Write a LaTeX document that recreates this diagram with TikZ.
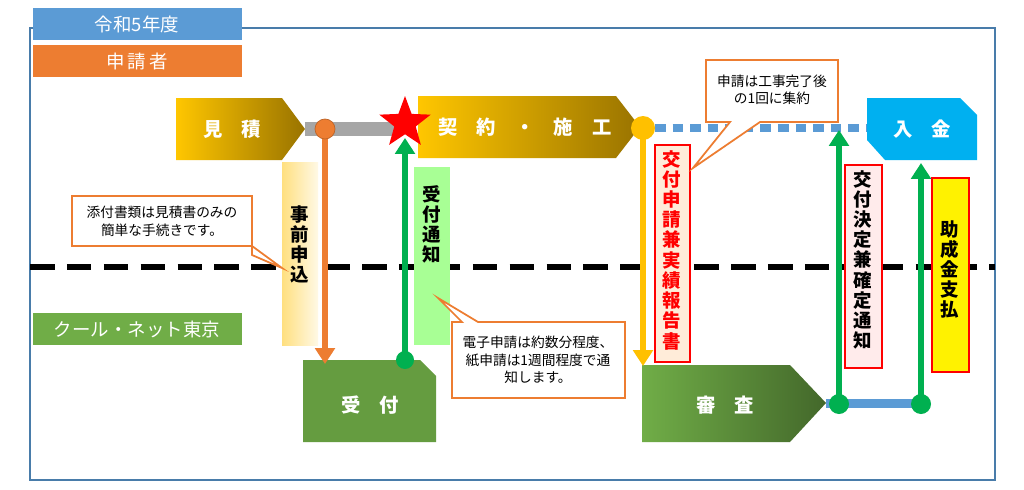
\documentclass[tikz,border=0pt]{standalone}
\usepackage{fontspec}
\setmainfont{Noto Sans CJK JP}
\usetikzlibrary{shapes.geometric,arrows.meta}
\definecolor{hblue}{HTML}{5B9BD5}
\definecolor{horange}{HTML}{ED7D31}
\definecolor{hgreen}{HTML}{70AD47}
\definecolor{dgreen}{HTML}{00B050}
\definecolor{gold}{HTML}{FFC000}
\definecolor{cyanb}{HTML}{00B0F0}
\tikzset{
  hdr/.style={draw=none,text=white,font=\fontsize{10.5}{12}\selectfont,minimum width=209*0.02cm,minimum height=32*0.02cm,inner sep=0},
  vt/.style={font=\bfseries\fontsize{10.5}{11.5}\selectfont,align=center,inner sep=0,anchor=north},
  call/.style={draw=horange,line width=1pt,fill=white},
  ctext/.style={font=\fontsize{7.8}{10}\selectfont,align=center},
  arr/.style={line width=3.5pt,-{Triangle[length=9pt,width=11pt]}},
  wt/.style={text=white,font=\bfseries\fontsize{11}{13}\selectfont},
}
\begin{document}
\begin{tikzpicture}[x=0.02cm,y=-0.02cm]
\useasboundingbox[fill=white] (0,0) rectangle (1024,490);
% frame
\draw[hblue!80!black,line width=1.2pt] (30,28) -- (995,28) -- (995,480) -- (30,480) -- cycle;
\node[hdr,fill=hblue] (year) at (137,24) {令和5年度};
\node[hdr,fill=horange] (app) at (137,61) {申\,請\,者};
\node[hdr,fill=hgreen] (cn) at (137,329) {クール・ネット東京};
% dashed divider
\coordinate (dl) at (30,267); \coordinate (dr) at (995,267);
\draw[line width=3pt,dash pattern=on 14pt off 7pt] (dl) -- (dr);
% mitsumori
\path[left color=gold!90!yellow,right color=gold!60!black] (176,98) -- (282,98) -- (305,129) -- (282,160) -- (176,160) -- cycle;
\node[wt] (mitsu) at (232,129) {見\quad 積};
% gray bar
\fill[gray!70] (305,122) rectangle (400,136);
% keiyaku
\path[left color=gold!90!yellow,right color=gold!60!black] (418,96) -- (616,96) -- (640,127) -- (616,158) -- (418,158) -- cycle;
\node[wt] (kei) at (525,127) {契\quad 約\quad・\quad 施\quad 工};
% dotted blue line
\coordinate (dot1) at (655,128); \coordinate (dot2) at (868,128);
\draw[hblue,line width=5pt,dash pattern=on 6pt off 4pt] (dot1) -- (dot2);
% nyukin
\fill[cyanb] (867,98) -- (960,98) -- (977,115) -- (977,160) -- (885,160) -- (867,140) -- cycle;
\node[wt] (nyu) at (922,129) {入\quad 金};
% uketsuke
\fill[hgreen!90!black] (303,360) -- (420,360) -- (436,376) -- (436,442) -- (303,442) -- cycle;
\node[wt] (uke) at (370,405) {受\quad 付};
% shinsa
\path[left color=hgreen,right color=hgreen!60!black] (642,365) -- (790,365) -- (826,403) -- (790,442) -- (642,442) -- cycle;
\node[wt] (shin) at (725,405) {審\quad 査};
% blue bar
\fill[hblue] (826,399) rectangle (925,408);
% vertical label boxes
\path[left color=gold!50,right color=gold!10] (282,162) rectangle (318,345);
\node[vt] (jizen) at (300,205) {事\\前\\申\\込};
\fill[green!35!white!90!lime] (414,167) rectangle (450,345);
\node[vt] (ukt) at (432,185) {受\\付\\通\\知};
\draw[red,line width=1.5pt,fill=orange!15] (655,145) rectangle (690,362);
\node[vt,text=red] (kofu) at (672,150) {交\\付\\申\\請\\兼\\実\\績\\報\\告\\書};
\draw[red,line width=1.5pt,fill=red!8] (845,165) rectangle (882,368);
\node[vt] (kettei) at (863,170) {交\\付\\決\\定\\兼\\確\\定\\通\\知};
\draw[red,line width=1.5pt,fill=yellow] (932,178) rectangle (969,372);
\node[vt] (shiharai) at (950,220) {助\\成\\金\\支\\払};
% arrows
\coordinate (oc) at (325,129); \coordinate (oe) at (325,364);
\draw[horange,arr] (oc) -- (oe);
\coordinate (gb) at (405,360); \coordinate (gt) at (405,138);
\draw[dgreen,arr] (gb) -- (gt);
\coordinate (yc) at (643,128); \coordinate (ye) at (643,366);
\draw[gold,arr] (yc) -- (ye);
\coordinate (g1b) at (839,404); \coordinate (g1t) at (839,130);
\draw[dgreen,arr] (g1b) -- (g1t);
\coordinate (g2b) at (921,404); \coordinate (g2t) at (921,163);
\draw[dgreen,arr] (g2b) -- (g2t);
% circles
\node[circle,fill=horange,draw=horange!80!black,minimum size=20*0.02cm,inner sep=0] (c1) at (oc) {};
\node[circle,fill=gold,minimum size=24*0.02cm,inner sep=0] (c2) at (yc) {};
\node[circle,fill=dgreen,minimum size=18*0.02cm,inner sep=0] (c3) at (gb) {};
\node[circle,fill=dgreen,minimum size=20*0.02cm,inner sep=0] (c4) at (g1b) {};
\node[circle,fill=dgreen,minimum size=20*0.02cm,inner sep=0] (c5) at (g2b) {};
\node[star,star points=5,star point ratio=2.4,fill=red,minimum size=54*0.02cm,inner sep=0] (st) at (405,123) {};
% callouts
\draw[call] (72,196) -- (252,196) -- (252,255) -- (282,268) -- (252,246) -- (72,246) -- cycle;
\node[ctext] (c1t) at (162,221) {添付書類は見積書のみの\\簡単な手続きです。};
\draw[call] (452,322) -- (462,322) -- (438,298) -- (478,322) -- (625,322) -- (625,398) -- (452,398) -- cycle;
\node[ctext] (c2t) at (538,360) {電子申請は約数分程度、\\紙申請は1週間程度で通\\知します。};
\draw[call] (706,60) -- (838,60) -- (838,122) -- (760,122) -- (693,168) -- (730,122) -- (706,122) -- cycle;
\node[ctext] (c3t) at (772,90) {申請は工事完了後\\の1回に集約};
\end{tikzpicture}
\end{document}
